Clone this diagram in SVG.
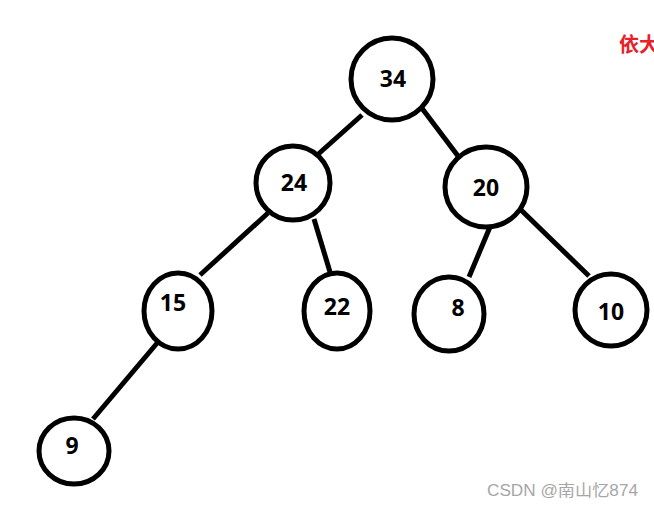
<svg xmlns="http://www.w3.org/2000/svg" width="654" height="507" viewBox="0 0 654 507">
<style>
.n{fill:#fff;stroke:#000;stroke-width:5}
.t{font-family:"Noto Sans","Open Sans","Liberation Sans",sans-serif;font-weight:bold;font-size:23px;text-anchor:middle;fill:#000}
.e{stroke:#000;stroke-width:5;stroke-linecap:butt;fill:none}
</style>
<rect width="654" height="507" fill="#fff"/>
<g id="connectors">
<line class="e" x1="362" y1="115" x2="315" y2="157"/>
<line class="e" x1="421" y1="107" x2="458" y2="156"/>
<line class="e" x1="268" y1="213" x2="200" y2="275"/>
<line class="e" x1="314" y1="219" x2="330" y2="272"/>
<line class="e" x1="490" y1="227" x2="469" y2="277"/>
<line class="e" x1="520" y1="209" x2="589" y2="276"/>
<line class="e" x1="158" y1="342" x2="93" y2="419"/>
</g>
<g id="n34"><ellipse class="n" cx="392" cy="79" rx="41" ry="41"/><text class="t" x="393" y="87">34</text></g>
<g id="n24"><ellipse class="n" cx="293" cy="183" rx="37" ry="37"/><text class="t" x="294" y="191">24</text></g>
<g id="n20"><ellipse class="n" cx="486" cy="187" rx="41" ry="40"/><text class="t" x="486" y="196">20</text></g>
<g id="n15"><ellipse class="n" cx="178" cy="311" rx="34" ry="38"/><text class="t" x="173" y="311">15</text></g>
<g id="n22"><ellipse class="n" cx="337" cy="311" rx="33" ry="38"/><text class="t" x="337" y="315">22</text></g>
<g id="n8"><ellipse class="n" cx="449" cy="314" rx="35" ry="37"/><text class="t" x="458" y="316">8</text></g>
<g id="n10"><ellipse class="n" cx="611" cy="310" rx="36" ry="36"/><text class="t" x="611" y="320">10</text></g>
<g id="n9"><ellipse class="n" cx="74" cy="451" rx="35" ry="33"/><text class="t" x="72" y="454">9</text></g>
<text x="619" y="52" font-family="'Noto Sans CJK SC',sans-serif" font-weight="bold" font-size="20" fill="#e8202a">依大</text>
<text x="487" y="496" font-family="'Liberation Sans','Noto Sans CJK SC',sans-serif" font-size="16" textLength="151" lengthAdjust="spacingAndGlyphs" fill="#a6a6a6">CSDN @南山忆874</text>
</svg>
